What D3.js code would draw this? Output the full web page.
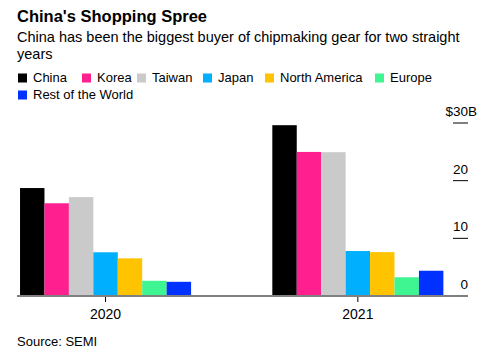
<!DOCTYPE html>
<html>
<head>
<meta charset="utf-8">
<script src="https://cdn.jsdelivr.net/npm/d3@7"></script>
<style>
  html, body { margin: 0; padding: 0; background: #fff; }
  text { font-family: "Liberation Sans", Arial, Helvetica, sans-serif; }
</style>
</head>
<body>
<svg id="chart" width="500" height="354"></svg>
<script>
const years = ["2020", "2021"];
const regions = ["China", "Korea", "Taiwan", "Japan", "North America", "Europe", "Rest of the World"];
const colors = ["#000000", "#ff1f8e", "#cacaca", "#00b0ff", "#ffc300", "#3ff591", "#0031ff"];
const values2020 = [18.72, 16.08, 17.15, 7.58, 6.53, 2.64, 2.46];
const values2021 = [29.62, 24.98, 24.94, 7.80, 7.61, 3.25, 4.38];
const yTicks = [0, 10, 20, 30];
const yTickLabels = ["0", "10", "20", "30"];

const seriesByYear = { "2020": values2020, "2021": values2021 };

const svg = d3.select("#chart");

// Title & subtitle
svg.append("text").attr("x", 17).attr("y", 22)
  .attr("font-size", 16.5).attr("font-weight", "bold").attr("fill", "#000")
  .text("China's Shopping Spree");
const sub = svg.append("text").attr("x", 17).attr("y", 42)
  .attr("font-size", 14.5).attr("fill", "#000");
sub.append("tspan").attr("x", 17).attr("y", 42)
  .text("China has been the biggest buyer of chipmaking gear for two straight");
sub.append("tspan").attr("x", 17).attr("y", 59).text("years");

// Legend
const legendPos = [[17, 82], [81, 82], [136, 82], [202, 82], [264, 82], [374, 82], [17, 99]];
const legend = svg.append("g");
regions.forEach((r, i) => {
  const [lx, ly] = legendPos[i];
  legend.append("rect").attr("x", lx + 1).attr("y", ly - 8.5)
    .attr("width", 9).attr("height", 9).attr("fill", colors[i]);
  legend.append("text").attr("x", lx + 16).attr("y", ly)
    .attr("font-size", 13).attr("fill", "#000").text(r);
});

// Scales
const x0 = d3.scaleBand().domain(years).range([17, 446.4])
  .paddingInner(0.322).paddingOuter(0.012);
const x1 = d3.scaleBand().domain(regions).range([0, x0.bandwidth()]).padding(0);
const y = d3.scaleLinear().domain([0, 30]).range([296, 123]);

// Bars
const groups = svg.append("g").selectAll("g").data(years).join("g")
  .attr("transform", d => `translate(${x0(d)},0)`);
groups.selectAll("rect")
  .data(yr => regions.map((r, i) => ({ r, i, v: seriesByYear[yr][i] })))
  .join("rect")
  .attr("x", d => x1(d.r))
  .attr("width", x1.bandwidth())
  .attr("y", d => y(d.v))
  .attr("height", d => y(0) - y(d.v))
  .attr("fill", d => colors[d.i]);

// Y axis (right side): short tick lines with labels above
const yAxis = svg.append("g");
const topTick = yTicks[yTicks.length - 1];
yTicks.forEach((t, i) => {
  if (t !== 0) {
    yAxis.append("line").attr("x1", 453).attr("x2", 468)
      .attr("y1", y(t)).attr("y2", y(t))
      .attr("stroke", "#000").attr("stroke-width", 1);
  }
  const isTop = t === topTick;
  yAxis.append("text").attr("x", 468).attr("y", y(t) - 7)
    .attr("text-anchor", "end").attr("font-size", 13.5).attr("fill", "#000")
    .text(isTop ? "$" + yTickLabels[i] : yTickLabels[i]);
  if (isTop) {
    yAxis.append("text").attr("x", 468).attr("y", y(t) - 7)
      .attr("font-size", 13.5).attr("fill", "#000").text("B");
  }
});

// X axis
const xAxis = d3.axisBottom(x0).tickSize(6).tickPadding(7);
const gx = svg.append("g").attr("transform", "translate(0,296)").call(xAxis);
gx.select(".domain").remove();
gx.selectAll(".tick line").attr("stroke", "#000").attr("stroke-width", 1);
gx.selectAll(".tick text").attr("font-size", 14).attr("fill", "#000")
  .attr("font-family", "Liberation Sans, Arial, sans-serif");
svg.append("line").attr("x1", 17).attr("x2", 468).attr("y1", 296).attr("y2", 296)
  .attr("stroke", "#808080").attr("stroke-width", 2);

// Source
svg.append("text").attr("x", 17).attr("y", 346)
  .attr("font-size", 13).attr("fill", "#000").text("Source: SEMI");
</script>
</body>
</html>
